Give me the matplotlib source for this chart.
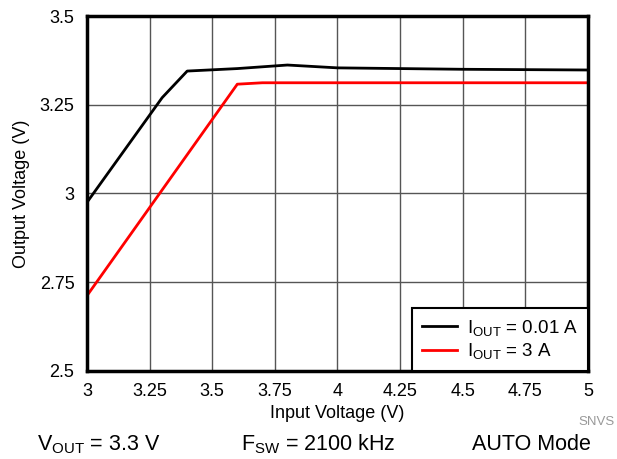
import numpy as np
import matplotlib
matplotlib.use("Agg")
import matplotlib.pyplot as plt

plt.rcParams['font.family'] = ['Liberation Sans', 'DejaVu Sans']
plt.rcParams['mathtext.fontset'] = 'custom'
plt.rcParams['mathtext.rm'] = 'Liberation Sans'
plt.rcParams['mathtext.it'] = 'Liberation Sans'

# datos
vin_low = [3.0, 3.3, 3.4, 3.6, 3.8, 4.0, 4.5, 5.0]
vout_low = [2.975, 3.27, 3.345, 3.352, 3.362, 3.354, 3.35, 3.348]
vin_high = [3.0, 3.6, 3.7, 4.0, 5.0]
vout_high = [2.712, 3.308, 3.312, 3.312, 3.312]

xticks = [3, 3.25, 3.5, 3.75, 4, 4.25, 4.5, 4.75, 5]
xlabels = ['3', '3.25', '3.5', '3.75', '4', '4.25', '4.5', '4.75', '5']
yticks = [2.5, 2.75, 3, 3.25, 3.5]
ylabels = ['2.5', '2.75', '3', '3.25', '3.5']

fig = plt.figure(figsize=(6.17, 4.59), dpi=100)
ax = fig.add_axes([0.141, 0.192, 0.812, 0.773])

ax.plot(vin_low, vout_low, color='black', lw=2, label=r'I$_{\mathrm{OUT}}$ = 0.01 A')
ax.plot(vin_high, vout_high, color='red', lw=2, label=r'I$_{\mathrm{OUT}}$ = 3 A')

ax.set_xlim(3, 5)
ax.set_ylim(2.5, 3.5)
ax.set_xticks(xticks)
ax.set_xticklabels(xlabels)
ax.set_yticks(yticks)
ax.set_yticklabels(ylabels)
ax.tick_params(length=0, labelsize=13, pad=9)
ax.grid(True, color='#555555', lw=1)
for s in ax.spines.values():
    s.set_linewidth(2.5)

ax.set_xlabel('Input Voltage (V)', fontsize=13, labelpad=3)
ax.set_ylabel('Output Voltage (V)', fontsize=13, labelpad=7)

leg = ax.legend(loc='lower right', borderaxespad=0, fancybox=False,
                edgecolor='black', fontsize=13.5, handlelength=1.9,
                handletextpad=0.55, framealpha=1, borderpad=0.5,
                labelspacing=0.2)
leg.get_frame().set_linewidth(1.5)

fig.text(0.997, 0.081, 'SNVS', fontsize=9.5, color='#999999', ha='right', va='center')
fig.text(0.06, 0.032, r'V$_{\mathrm{OUT}}$ = 3.3 V', fontsize=15.5, ha='left', va='center')
fig.text(0.39, 0.032, r'F$_{\mathrm{SW}}$ = 2100 kHz', fontsize=15.5, ha='left', va='center')
fig.text(0.957, 0.032, 'AUTO Mode', fontsize=15.5, ha='right', va='center')

fig.savefig('out.png', dpi=100)
